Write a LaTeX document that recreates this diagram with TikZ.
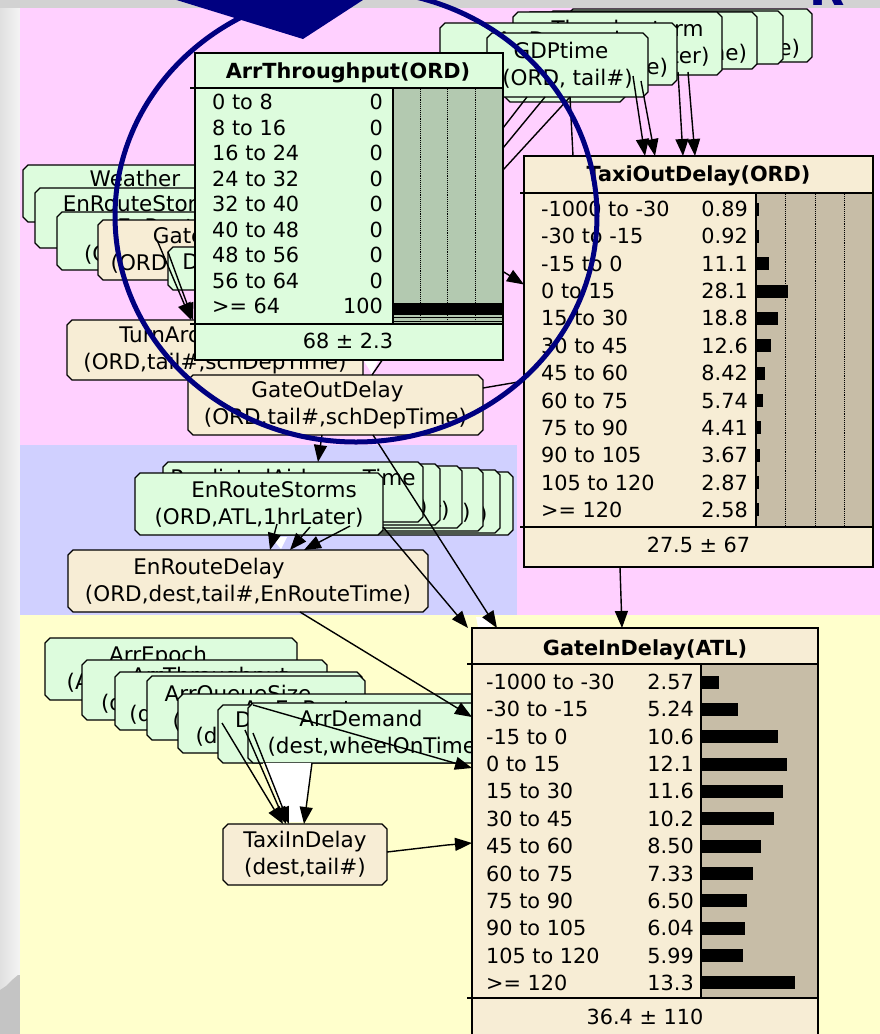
\documentclass[tikz,border=0pt]{standalone}
\usepackage{fontspec}
\setmainfont{DejaVu Sans}
\usetikzlibrary{arrows.meta}

\definecolor{slidegray}{HTML}{D2D2D2}
\definecolor{stripA}{HTML}{E0E0E0}
\definecolor{stripB}{HTML}{F4F4F4}
\definecolor{cornergray}{HTML}{C4C4C4}
\definecolor{zonepink}{HTML}{FFD0FF}
\definecolor{zonelav}{HTML}{D0D0FF}
\definecolor{zoneyel}{HTML}{FFFFCC}
\definecolor{nodegreen}{HTML}{DDFCDD}
\definecolor{nodebeige}{HTML}{F7EDD5}
\definecolor{bargreen}{HTML}{B3C9B0}
\definecolor{bartan}{HTML}{C7BDA7}
\definecolor{annot}{HTML}{000080}

\tikzset{
  anchorbox/.style={rectangle,inner sep=0pt,outer sep=0pt,draw=none},
  nettext/.style={align=center,inner sep=0pt,font=\fontsize{21.5}{27}\selectfont},
  tabtext/.style={inner sep=0pt,font=\fontsize{20.8}{25}\selectfont},
  tabtitle/.style={inner sep=0pt,font=\bfseries\fontsize{20.8}{25}\selectfont},
  border/.style={draw=black,line width=1.3pt},
  link/.style={draw=black,line width=1.4pt},
  linkhead/.style={link,-{Triangle[length=17pt,width=13pt]}},
  dotline/.style={draw=black,line width=0.9pt,densely dotted},
}

% an empty text line that keeps the line height
\newcommand\NoLine{\vphantom{(}}

% network node: name, fill, x1, y1, x2, y2, text options, first line, second line
\newcommand\NetNode[9]{%
  \pgfmathsetmacro\nnW{#5-#3}%
  \pgfmathsetmacro\nnH{#6-#4}%
  \pgfmathsetmacro\nnX{(#3+#5)/2}%
  \pgfmathsetmacro\nnY{(#4+#6)/2}%
  \node[anchorbox,minimum width=\nnW pt,minimum height=\nnH pt] (#1) at (\nnX,\nnY) {};%
  \path[border,fill=#2]
    ([xshift=5pt]#1.north west) -- ([xshift=-5pt]#1.north east)
    -- ([yshift=-5pt]#1.north east) -- ([yshift=5pt]#1.south east)
    -- ([xshift=-5pt]#1.south east) -- ([xshift=5pt]#1.south west)
    -- ([yshift=5pt]#1.south west) -- ([yshift=-5pt]#1.north west) -- cycle;%
  \node[nettext,#7] (#1-t) at (#1.center) {#8\\#9};%
}

\begin{document}
\begin{tikzpicture}[x=1pt,y=-1pt]
\useasboundingbox (0,0) rectangle (880,1034);
\clip (0,0) rectangle (880,1034);

% slide background
\fill[stripB] (0,0) rectangle (880,1034);
\fill[left color=stripA,right color=stripB] (0,0) rectangle (20,1034);
\fill[slidegray] (0,0) rectangle (880,8);
\fill[cornergray] (0,990) -- (6,986) -- (12,980) -- (18,975) -- (20,975) -- (20,1034) -- (0,1034) -- cycle;

% coloured zones
\fill[zonepink] (20,8) rectangle (880,615);
\fill[zonelav] (20,445) rectangle (517,615);
\fill[zoneyel] (20,615) rectangle (880,1034);

% frames of the expanded belief tables
\node[anchorbox,minimum width=308pt,minimum height=307pt] (ArrTh) at (349,206.5) {};
\node[anchorbox,minimum width=349pt,minimum height=411pt] (TaxiOut) at (698.5,361.5) {};
\node[anchorbox,minimum width=346pt,minimum height=417pt] (GateIn) at (645,836.5) {};

% departure-side inputs
\NetNode{T1}{nodegreen}{568}{9}{812}{62}{}{\NoLine}{(ORD,wheelOffTime)}
\NetNode{T2}{nodegreen}{548}{11}{783}{64}{}{\NoLine}{\NoLine}
\NetNode{T3}{nodegreen}{525}{12}{757}{69}{xshift=-4pt}{\NoLine}{(ORD,wheelOffTime)}
\NetNode{T4}{nodegreen}{513}{12}{722}{75}{xshift=10pt}{Thunderstorm}{(ORD,1hrLater)}
\NetNode{T5}{nodegreen}{440}{23}{677}{85}{}{ArrDemand}{(ORD,wheelOnTime)}
\NetNode{T6}{nodegreen}{505}{40}{625}{102}{}{\NoLine}{\NoLine}
\NetNode{GDPtime}{nodegreen}{487}{33}{648}{97}{}{\hspace*{-13pt}GDPtime}{(ORD, tail\#)}

% turnaround inputs
\NetNode{W1}{nodegreen}{23}{165}{247}{222}{}{Weather}{\NoLine}
\NetNode{W2}{nodegreen}{35}{188}{256}{248}{}{EnRouteStorms}{(ORD,ATL,NOW)}
\NetNode{W3}{nodegreen}{57}{212}{320}{270}{}{EnRouteTime}{(ORD,ATL,1hrLater)}
\NetNode{W4}{nodebeige}{98}{220}{341}{280}{}{GateInDelay}{(ORD,tail\#,inbound)}
\NetNode{W5}{nodegreen}{168}{247}{302}{290}{yshift=-8pt}{DepDelay}{\NoLine}
\NetNode{TurnAround}{nodebeige}{67}{320}{363}{380}{}{\hspace*{-16pt}TurnAroundTime}{(ORD,tail\#,schDepTime)}
\NetNode{GateOut}{nodebeige}{188}{375}{483}{435}{}{\hspace*{-16pt}GateOutDelay}{(ORD,tail\#,schDepTime)}

% en-route stack
\NetNode{B6}{nodegreen}{268}{472}{513}{535}{}{\NoLine}{(ORD,ATL,5hrsLater)}
\NetNode{B5}{nodegreen}{255}{470}{500}{533}{}{\NoLine}{(ORD,ATL,4hrsLater)}
\NetNode{B4}{nodegreen}{238}{468}{483}{531}{}{\NoLine}{(ORD,ATL,3hrsLater)}
\NetNode{B3}{nodegreen}{217}{466}{462}{528}{}{\NoLine}{(ORD,ATL,2hrsLater)}
\NetNode{B2}{nodegreen}{195}{464}{440}{525}{}{\NoLine}{(ORD,ATL,0hrsLater)}
\NetNode{B1}{nodegreen}{163}{462}{423}{522}{}{PredictedAirborneTime}{\NoLine}
\NetNode{ERS}{nodegreen}{135}{473}{383}{535}{}{\hspace*{30pt}EnRouteStorms}{(ORD,ATL,1hrLater)}
\NetNode{ERD}{nodebeige}{68}{550}{428}{612}{}{\hspace*{-78pt}EnRouteDelay}{(ORD,dest,tail\#,EnRouteTime)}

% arrival-side inputs
\NetNode{Y1}{nodegreen}{45}{638}{297}{700}{}{\hspace*{-26pt}ArrEpoch}{(ATL,wheelOnTime)}
\NetNode{Y2}{nodegreen}{82}{660}{327}{720}{xshift=5pt}{ArrThroughput}{(dest,wheelOnTime)}
\NetNode{Y3}{nodegreen}{115}{672}{362}{730}{}{DepThroughput}{(dest,wheelOffTime)}
\NetNode{Y4}{nodegreen}{147}{676}{365}{740}{xshift=25pt}{\hspace*{-86pt}ArrQueueSize}{(dest,wheelOnTime)}
\NetNode{Y5}{nodegreen}{178}{694}{480}{753}{xshift=-25pt}{ArrEnRoute}{(dest,wheelOnTime)}
\NetNode{Y6}{nodegreen}{218}{705}{470}{763}{}{\hspace*{-83pt}DepDemand}{\NoLine}
\NetNode{Y7}{nodegreen}{248}{703}{504}{763}{}{\hspace*{-30pt}ArrDemand}{(dest,wheelOnTime)}
\NetNode{TaxiIn}{nodebeige}{223}{824}{387}{885}{}{TaxiInDelay}{(dest,tail\#)}

% unpainted gaps between converging links
\fill[white] (263,763) -- (312,763) -- (303,822) -- (287,822) -- cycle;
\fill[white] (271,537) -- (287,537) -- (281,549) -- cycle;
\fill[white] (476,617) -- (492,617) -- (492,627) -- (478,627) -- cycle;
\fill[white] (364,361) -- (378,361) -- (372,374) -- cycle;

% links into TaxiOutDelay
\draw[linkhead] ([shift={(-15pt,21pt)}]GDPtime.south east) -- ([xshift=-53.5pt]TaxiOut.north);
\draw[linkhead] ([shift={(-7pt,16pt)}]GDPtime.south east) -- ([xshift=-43.5pt]TaxiOut.north);
\draw[linkhead] ([shift={(-44pt,3pt)}]T4.south east) -- ([xshift=-15.5pt]TaxiOut.north);
\draw[linkhead] ([shift={(-34pt,3pt)}]T4.south east) -- ([xshift=-3.5pt]TaxiOut.north);
\draw[link] ([xshift=2.5pt]GDPtime.south) -- ([xshift=-125.5pt]TaxiOut.north);
\draw[link] ([xshift=40pt]GDPtime.south west) -- ([yshift=-75pt]ArrTh.north east);
\draw[link] ([xshift=58pt]GDPtime.south west) -- ([yshift=-95pt]ArrTh.north east);
\draw[link] ([xshift=2.5pt]GDPtime.south) -- ([yshift=-117pt]ArrTh.north east);
\draw[linkhead] ([yshift=-65pt]ArrTh.east) -- ([yshift=77pt]TaxiOut.west);
\draw[link] ([yshift=17pt]GateOut.east) -- ([yshift=-19.5pt]TaxiOut.west);

% links into TurnAroundTime and GateOutDelay
\draw[linkhead] ([shift={(59pt,-20pt)}]W4.north west) -- ([xshift=124pt]TurnAround.north west);
\draw[linkhead] ([shift={(70pt,-32pt)}]W4.north west) -- ([xshift=126pt]TurnAround.north west);
\draw[link] ([shift={(36pt,4pt)}]ArrTh.south) -- ([xshift=36.5pt]GateOut.north);

% en-route links
\draw[linkhead] ([xshift=-13.5pt]GateOut.south) -- ([xshift=25pt]B1.north);
\draw[linkhead] ([xshift=37.5pt]GateOut.south) -- ([xshift=-148pt]GateIn.north);
\draw[linkhead] ([yshift=8pt]ERS.south east) -- ([xshift=-4pt]GateIn.north west);
\draw[linkhead] ([shift={(142pt,11pt)}]ERS.south west) -- ([xshift=202pt]ERD.north west);
\draw[linkhead] ([shift={(175pt,8pt)}]ERS.south west) -- ([xshift=222pt]ERD.north west);
\draw[linkhead] ([shift={(215pt,9pt)}]ERS.south west) -- ([xshift=236pt]ERD.north west);
\draw[linkhead] ([xshift=232pt]ERD.south west) -- ([yshift=-89pt]GateIn.north west);

% arrival links
\draw[linkhead] ([shift={(5pt,-2pt)}]Y7.north west) -- ([yshift=-140pt]GateIn.north west);
\draw[linkhead] ([shift={(4pt,-18pt)}]Y6.north west) -- ([xshift=60pt]TaxiIn.north west);
\draw[linkhead] ([shift={(27pt,-25pt)}]Y6.north west) -- ([xshift=63pt]TaxiIn.north west);
\draw[linkhead] ([shift={(35pt,-28pt)}]Y6.north west) -- ([xshift=66pt]TaxiIn.north west);
\draw[linkhead] ([xshift=94pt]Y6.south west) -- ([xshift=81pt]TaxiIn.north west);
\draw[linkhead] ([yshift=2.5pt]TaxiIn.east) -- ++(60pt,7pt) -- ([yshift=-215pt]GateIn.north west);
\draw[linkhead] ([xshift=-78.5pt]TaxiOut.south) -- ([xshift=-23pt]GateIn.north);

% ArrThroughput(ORD) table
\path[border,fill=nodegreen] (ArrTh.north west) rectangle (ArrTh.south east);
\path[border,fill=bargreen] (393,88) rectangle (503,324);
\foreach \xx in {420,447,475} \draw[dotline] (\xx,89) -- (\xx,323);
\fill[black] (393,303) rectangle (503,315);
\draw[black,line width=0.8pt] (393,317.5) -- (503,317.5);
\draw[black,line width=0.8pt] (393,321) -- (503,321);
\draw[border] (190,88) -- (503,88);
\draw[border] (190,324) -- (503,324);
\node[tabtitle,anchor=base] (ArrTh-title) at (348,78.5) {ArrThroughput(ORD)};
\foreach \lab/\val [count=\i from 0] in {0 to 8/0,8 to 16/0,16 to 24/0,24 to 32/0,32 to 40/0,40 to 48/0,48 to 56/0,56 to 64/0,>= 64/100}{
  \pgfmathsetmacro\ry{102+25.5*\i}
  \node[tabtext,anchor=base west] (ArrTh-l\i) at (212,\ry+7.5) {\lab};
  \node[tabtext,anchor=base east] (ArrTh-v\i) at (383,\ry+7.5) {\val};
}
\node[tabtext,anchor=base] (ArrTh-foot) at (348,348.5) {68 ± 2.3};

% TaxiOutDelay(ORD) table
\path[border,fill=nodebeige] (TaxiOut.north west) rectangle (TaxiOut.south east);
\path[border,fill=bartan] (756,193) rectangle (873,527);
\foreach \xx in {785,815,844} \draw[dotline] (\xx,194) -- (\xx,526);
\draw[border] (520,193) -- (873,193);
\draw[border] (520,527) -- (873,527);
\node[tabtitle,anchor=base] (TaxiOut-title) at (698.5,181.5) {TaxiOutDelay(ORD)};
\foreach \lab/\val/\len [count=\i from 0] in {-1000 to -30/0.89/3,-30 to -15/0.92/3,-15 to 0/11.1/13,0 to 15/28.1/32,15 to 30/18.8/22,30 to 45/12.6/15,45 to 60/8.42/9,60 to 75/5.74/7,75 to 90/4.41/5,90 to 105/3.67/4,105 to 120/2.87/3,>= 120/2.58/3}{
  \pgfmathsetmacro\ry{209+27.36*\i}
  \node[tabtext,anchor=base west] (TaxiOut-l\i) at (541,\ry+7.5) {\lab};
  \node[tabtext,anchor=base east] (TaxiOut-v\i) at (748,\ry+7.5) {\val};
  \fill[black] (756,\ry-6.5) rectangle ++(\len,13);
}
\node[tabtext,anchor=base] (TaxiOut-foot) at (698.5,552.5) {27.5 ± 67};

% GateInDelay(ATL) table
\path[border,fill=nodebeige] (GateIn.north west) rectangle (GateIn.south east);
\path[border,fill=bartan] (701,664) rectangle (818,998);
\draw[border] (467,664) -- (818,664);
\draw[border] (467,998) -- (818,998);
\node[tabtitle,anchor=base] (GateIn-title) at (645,655.5) {GateInDelay(ATL)};
\foreach \lab/\val/\len [count=\i from 0] in {-1000 to -30/2.57/18,-30 to -15/5.24/37,-15 to 0/10.6/77,0 to 15/12.1/86,15 to 30/11.6/82,30 to 45/10.2/73,45 to 60/8.50/60,60 to 75/7.33/52,75 to 90/6.50/46,90 to 105/6.04/44,105 to 120/5.99/42,>= 120/13.3/94}{
  \pgfmathsetmacro\ry{682+27.36*\i}
  \node[tabtext,anchor=base west] (GateIn-l\i) at (486,\ry+7.5) {\lab};
  \node[tabtext,anchor=base east] (GateIn-v\i) at (694,\ry+7.5) {\val};
  \fill[black] (701,\ry-6.5) rectangle ++(\len,13);
}
\node[tabtext,anchor=base] (GateIn-foot) at (645,1024.5) {36.4 ± 110};

% navy highlight ring, block arrow and title letter
\draw[annot,line width=5pt] (356,216) ellipse [x radius=241pt,y radius=226pt];
\fill[annot] (170,-2) -- (303,39) -- (366,-2) -- cycle;
\begin{scope}
  \clip (800,0) rectangle (870,6.5);
  \node[anchor=base west,inner sep=0pt,text=annot,font=\bfseries\fontsize{46}{46}\selectfont] (titleR) at (809,5) {R};
\end{scope}
\end{tikzpicture}
\end{document}
